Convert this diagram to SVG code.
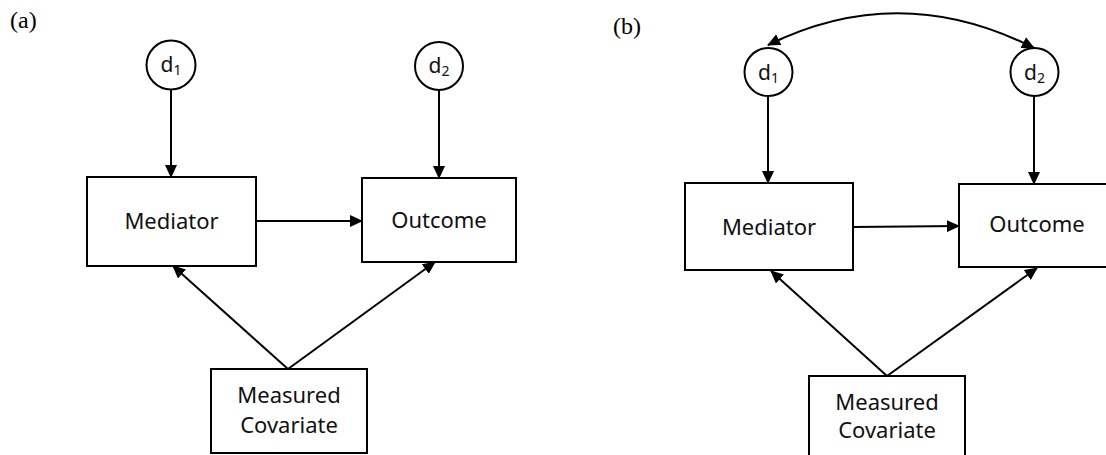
<svg xmlns="http://www.w3.org/2000/svg" width="1106" height="455" viewBox="0 0 1106 455">
<style>
.box{fill:#fff;stroke:#000;stroke-width:2}
.circ{fill:#fff;stroke:#000;stroke-width:2}
.lbl{font-family:"Noto Sans","Open Sans",sans-serif;font-size:22px;fill:#111;text-anchor:middle}
.dl{font-family:"Noto Sans","Open Sans",sans-serif;font-size:21px;fill:#111;text-anchor:middle}
.panel{font-family:"Liberation Serif","Times New Roman",serif;font-size:24px;fill:#000}
.edge{fill:none;stroke:#000;stroke-width:2}
</style>
<defs>
<marker id="ah" viewBox="0 0 13 12" refX="12" refY="6" markerUnits="userSpaceOnUse" markerWidth="13" markerHeight="12" orient="auto-start-reverse">
<path d="M0,0 L13,6 L0,12 Z" fill="#000"/>
</marker>
</defs>
<text class="panel" x="10" y="28">(a)</text>
<text class="panel" x="613" y="34">(b)</text>
<g id="connectors">
<line class="edge" x1="171" y1="90" x2="171" y2="177" marker-end="url(#ah)"/>
<line class="edge" x1="439" y1="90" x2="439" y2="178" marker-end="url(#ah)"/>
<line class="edge" x1="256" y1="221" x2="362" y2="221" marker-end="url(#ah)"/>
<line class="edge" x1="288" y1="369" x2="173" y2="266" marker-end="url(#ah)"/>
<line class="edge" x1="288" y1="369" x2="435" y2="262" marker-end="url(#ah)"/>
<path class="edge" d="M768,45 Q900,-20 1034,48" marker-start="url(#ah)" marker-end="url(#ah)"/>
<line class="edge" x1="768" y1="96" x2="768" y2="183" marker-end="url(#ah)"/>
<line class="edge" x1="1034" y1="96" x2="1034" y2="184" marker-end="url(#ah)"/>
<line class="edge" x1="853" y1="227" x2="959" y2="226" marker-end="url(#ah)"/>
<line class="edge" x1="887" y1="376" x2="771" y2="271" marker-end="url(#ah)"/>
<line class="edge" x1="887" y1="376" x2="1037" y2="268" marker-end="url(#ah)"/>
</g>
<g id="a-d1"><circle class="circ" cx="171" cy="65" r="24.5"/><text class="dl" x="171" y="72">d<tspan font-size="14" dy="3">1</tspan></text></g>
<g id="a-d2"><circle class="circ" cx="439" cy="66" r="24"/><text class="dl" x="439" y="73">d<tspan font-size="14" dy="3">2</tspan></text></g>
<g id="a-mediator"><rect class="box" x="87" y="177" width="169" height="89"/><text class="lbl" x="171.5" y="229">Mediator</text></g>
<g id="a-outcome"><rect class="box" x="362" y="178" width="154" height="84"/><text class="lbl" x="439" y="228">Outcome</text></g>
<g id="a-covariate"><rect class="box" x="211" y="369" width="156" height="84"/><text class="lbl" x="289" y="403">Measured</text><text class="lbl" x="289" y="433">Covariate</text></g>
<g id="b-d1"><circle class="circ" cx="768.5" cy="72" r="24"/><text class="dl" x="768.5" y="80">d<tspan font-size="14" dy="3">1</tspan></text></g>
<g id="b-d2"><circle class="circ" cx="1034.5" cy="72" r="24"/><text class="dl" x="1034.5" y="80">d<tspan font-size="14" dy="3">2</tspan></text></g>
<g id="b-mediator"><rect class="box" x="685" y="183" width="168" height="87"/><text class="lbl" x="769" y="235">Mediator</text></g>
<g id="b-outcome"><rect class="box" x="959" y="184" width="160" height="83"/><text class="lbl" x="1037" y="232">Outcome</text></g>
<g id="b-covariate"><rect class="box" x="809" y="376" width="156" height="90"/><text class="lbl" x="887" y="410">Measured</text><text class="lbl" x="887" y="438">Covariate</text></g>
</svg>
